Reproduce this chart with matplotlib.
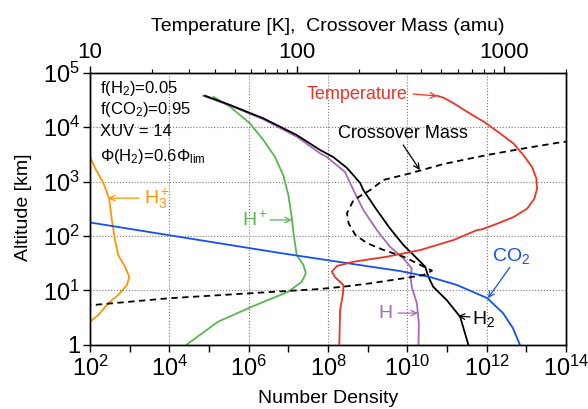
import matplotlib
matplotlib.use('Agg')
import matplotlib.pyplot as plt
from matplotlib.ticker import NullFormatter
import numpy as np

plt.rcParams['font.family'] = ['Liberation Sans', 'DejaVu Sans']
plt.rcParams['mathtext.fontset'] = 'custom'
plt.rcParams['mathtext.rm'] = 'Liberation Sans'
plt.rcParams['mathtext.it'] = 'Liberation Sans:italic'
plt.rcParams['mathtext.bf'] = 'Liberation Sans:bold'

# values, stored as log10 (number density, altitude km)
h2_logn = [4.90, 5.53, 6.37, 7.21, 7.80, 8.13, 8.48, 8.81, 8.89, 9.23, 9.56,
           9.90, 10.24, 10.45, 10.53, 10.65, 10.99, 11.33, 11.54]
h2_logz = [4.574, 4.404, 4.159, 3.853, 3.578, 3.450, 3.248, 2.972, 2.844, 2.477,
           2.141, 1.835, 1.590, 1.437, 1.253, 1.070, 0.826, 0.519, 0.0]

h_logn = [4.85, 5.53, 6.37, 7.21, 7.80, 7.97, 8.43, 8.64, 8.89, 9.23, 9.56,
          9.90, 10.11, 10.08, 10.11, 10.24, 10.29, 10.28]
h_logz = [4.574, 4.395, 4.141, 3.823, 3.517, 3.450, 3.174, 2.844, 2.477, 2.110,
          1.804, 1.590, 1.407, 1.253, 1.070, 0.765, 0.398, 0.0]

hp_logn = [5.11, 5.53, 6.03, 6.37, 6.66, 6.87, 7.00, 7.09, 7.13, 7.21, 7.38,
           7.44, 7.34, 7.00, 6.08, 5.23, 4.48, 4.44]
hp_logz = [4.556, 4.372, 4.067, 3.761, 3.455, 3.119, 2.752, 2.324, 2.050, 1.651,
           1.468, 1.315, 1.162, 0.978, 0.703, 0.428, 0.031, 0.0]

h3p_logn = [1.90, 2.00, 2.13, 2.34, 2.48, 2.55, 2.63, 2.71, 2.88, 2.99, 2.93,
            2.71, 2.46, 2.21, 2.00, 1.90]
h3p_logz = [3.60, 3.455, 3.242, 2.967, 2.691, 2.294, 1.927, 1.651, 1.437, 1.253,
            1.101, 0.917, 0.765, 0.550, 0.428, 0.38]

co2_logn = [2.00, 6.79, 9.13, 9.81, 10.57, 11.25, 12.01, 12.41, 12.66, 12.84]
co2_logz = [2.248, 1.688, 1.431, 1.358, 1.248, 1.101, 0.862, 0.587, 0.312, 0.0]

# top axis: temperature [K] and crossover mass [amu], log10
temp_logT = [2.677, 2.709, 2.758, 2.822, 2.903, 2.984, 3.048, 3.096, 3.137, 3.158,
             3.161, 3.148, 3.113, 3.048, 2.968, 2.895, 2.871, 2.758, 2.597, 2.435,
             2.274, 2.194, 2.169, 2.185, 2.225, 2.223, 2.209, 2.205]
temp_logz = [4.574, 4.538, 4.435, 4.281, 4.098, 3.878, 3.694, 3.480, 3.266, 3.052,
             2.868, 2.685, 2.502, 2.349, 2.226, 2.122, 2.110, 1.927, 1.743, 1.620,
             1.528, 1.450, 1.345, 1.242, 1.101, 0.949, 0.642, 0.0]

cross_logm = [3.320, 3.274, 3.080, 2.919, 2.709, 2.548, 2.418, 2.355, 2.274, 2.242,
              2.250, 2.282, 2.339, 2.419, 2.516, 2.597, 2.653, 2.613, 2.516, 2.355,
              2.225, 2.113, 1.379, 0.98]
cross_logz = [3.740, 3.719, 3.596, 3.486, 3.321, 3.150, 3.028, 2.844, 2.661, 2.416,
              2.233, 2.022, 1.869, 1.743, 1.620, 1.468, 1.363, 1.284, 1.224, 1.132,
              1.070, 1.028, 0.857, 0.722]

def lin(v):
    return np.power(10.0, v)

c_red = '#ee3226'
c_orange = '#ff9500'
c_green = '#5ab552'
c_purple = '#a56ab8'
c_blue = '#1450fa'

fig = plt.figure(figsize=(5.88, 4.09), dpi=100)
ax = fig.add_axes([0.1531, 0.1565, 0.8095, 0.6662])

lw = 1.3
ax.plot(lin(h3p_logn), lin(h3p_logz), color=c_orange, lw=lw)
ax.plot(lin(hp_logn), lin(hp_logz), color=c_green, lw=lw)
ax.plot(lin(h_logn), lin(h_logz), color=c_purple, lw=lw)
ax.plot(lin(h2_logn), lin(h2_logz), color='black', lw=lw)
ax.plot(lin(co2_logn), lin(co2_logz), color=c_blue, lw=lw)

ax.set_xscale('log')
ax.set_yscale('log')
ax.set_xlim(1e2, 1e14)
ax.set_ylim(1, 1e5)

ax.set_xticks([10.0**k for k in range(2, 15, 2)])
ax.set_xticklabels(['$10^{%d}$' % k for k in range(2, 15, 2)])
ax.set_xticks([10.0**k for k in range(3, 14, 2)], minor=True)
ax.xaxis.set_minor_formatter(NullFormatter())
ax.set_yticks([10.0**k for k in range(0, 6)])
ax.set_yticklabels(['1'] + ['$10^{%d}$' % k for k in range(1, 6)])
ax.yaxis.set_minor_formatter(NullFormatter())
ax.tick_params(axis='x', which='both', length=5, width=1, labelsize=17, pad=3)
ax.tick_params(axis='y', which='major', length=5, width=1, labelsize=17, pad=2)
ax.tick_params(axis='y', which='minor', length=3, width=0.8)
ax.grid(True, which='major', linestyle=':', color='#777777', lw=0.8)
ax.set_xlabel('Number Density', fontsize=14, labelpad=6)
ax.set_ylabel('Altitude [km]', fontsize=14)
ax.yaxis.set_label_coords(-0.122, 0.506)

ax2 = ax.twiny()
ax2.plot(lin(temp_logT), lin(temp_logz), color=c_red, lw=lw)
ax2.plot(lin(cross_logm), lin(cross_logz), color='black', lw=lw,
         linestyle=(0, (3.5, 2.5)))
ax2.set_xscale('log')
ax2.set_xlim(10, 2000)
ax2.set_xticks([10, 100, 1000])
ax2.set_xticklabels(['10', '100', '1000'])
ax2.xaxis.set_minor_formatter(NullFormatter())
ax2.tick_params(axis='x', which='major', length=5, width=1, labelsize=16, pad=2)
ax2.tick_params(axis='x', which='minor', length=3, width=0.8)
ax2.set_xlabel('Temperature [K],  Crossover Mass (amu)', fontsize=14, labelpad=8)

for a in (ax, ax2):
    for s in a.spines.values():
        s.set_linewidth(1.0)

# parameter block
tb = ax.transAxes
ax.text(0.021, 0.943, 'f(H$_2$)=0.05', transform=tb, fontsize=12, va='center')
ax.text(0.021, 0.866, 'f(CO$_2$)=0.95', transform=tb, fontsize=12, va='center')
ax.text(0.021, 0.782, 'XUV = 14', transform=tb, fontsize=12, va='center')
ax.text(0.021, 0.690, '\u03a6(H$_2$)=0.6\u03a6$_{\\rm lim}$', transform=tb,
        fontsize=12, va='center')

# curve labels with arrows
def label(txt, color, pos, ha, tail, tip, fs=14):
    ax.text(pos[0], pos[1], txt, transform=tb, color=color, fontsize=fs,
            ha=ha, va='center')
    ax.annotate('', xy=tip, xytext=tail, xycoords=tb, textcoords=tb,
                arrowprops=dict(arrowstyle='->', color=color, lw=0.9,
                                shrinkA=0, shrinkB=0))

label('H$_3^+$', c_orange, (0.114, 0.535), 'left', (0.103, 0.539), (0.038, 0.539))
label('H$^+$', c_green, (0.374, 0.459), 'right', (0.378, 0.459), (0.424, 0.459))
label('H', c_purple, (0.636, 0.117), 'right', (0.647, 0.117), (0.689, 0.117))
label('H$_2$', 'black', (0.803, 0.095), 'left', (0.798, 0.103), (0.773, 0.106))
label('CO$_2$', c_blue, (0.884, 0.325), 'center', (0.882, 0.285), (0.836, 0.172))
label('Temperature', c_red, (0.666, 0.921), 'right', (0.679, 0.921), (0.729, 0.914),
      fs=13)
label('Crossover Mass', 'black', (0.657, 0.778), 'center', (0.658, 0.734),
      (0.693, 0.642), fs=13)

fig.savefig('out.png', dpi=100)
